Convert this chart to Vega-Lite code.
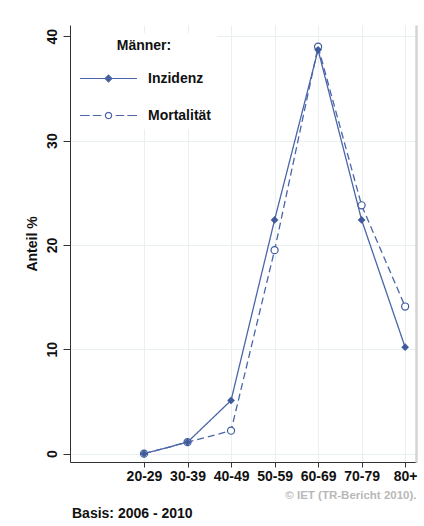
{
  "$schema": "https://vega.github.io/schema/vega-lite/v6.json",
  "width": 346,
  "height": 437,
  "autosize": "none",
  "padding": {"left": 70, "top": 25, "right": 8, "bottom": 64},
  "background": "white",
  "config": {"font": "Liberation Sans", "view": {"stroke": null}},
  "title": {"text": "Basis: 2006 - 2010", "orient": "bottom", "anchor": "start", "frame": "group", "fontSize": 14, "fontWeight": "bold", "color": "#111111", "offset": 6, "dx": 2},
  "data": {"values": [
    {"age": "20-29", "series": "Mortalität", "pct": 0},
    {"age": "30-39", "series": "Mortalität", "pct": 1.1},
    {"age": "40-49", "series": "Mortalität", "pct": 2.2},
    {"age": "50-59", "series": "Mortalität", "pct": 19.5},
    {"age": "60-69", "series": "Mortalität", "pct": 39.0},
    {"age": "70-79", "series": "Mortalität", "pct": 23.8},
    {"age": "80+", "series": "Mortalität", "pct": 14.1},
    {"age": "20-29", "series": "Inzidenz", "pct": 0},
    {"age": "30-39", "series": "Inzidenz", "pct": 1.1},
    {"age": "40-49", "series": "Inzidenz", "pct": 5.1},
    {"age": "50-59", "series": "Inzidenz", "pct": 22.4},
    {"age": "60-69", "series": "Inzidenz", "pct": 38.7},
    {"age": "70-79", "series": "Inzidenz", "pct": 22.4},
    {"age": "80+", "series": "Inzidenz", "pct": 10.2}
  ]},
  "encoding": {
    "x": {
      "field": "age", "type": "ordinal", "sort": ["20-29", "30-39", "40-49", "50-59", "60-69", "70-79", "80+"],
      "scale": {"type": "point", "padding": 0.975, "align": 0.872},
      "axis": {
        "title": "© IET (TR-Bericht 2010).", "titleColor": "#b8b8b8", "titleFontSize": 11.5, "titleFontWeight": "bold",
        "titleAnchor": "end", "titlePadding": 6,
        "labelAngle": 0, "labelFontSize": 14, "labelFontWeight": "bold", "labelColor": "#111111", "labelPadding": 2,
        "tickSize": 5, "tickColor": "#333333", "domainColor": "#333333",
        "grid": true, "gridColor": "#e8f0f1", "labelOverlap": false
      }
    },
    "y": {
      "field": "pct", "type": "quantitative",
      "scale": {"domain": [-0.8, 41.08], "nice": false, "zero": false},
      "axis": {
        "values": [0, 10, 20, 30, 40], "title": "Anteil %", "titleFontSize": 14, "titleFontWeight": "bold", "titleColor": "#111111",
        "titlePadding": 6, "labelAngle": 270, "labelAlign": "center", "labelBaseline": "bottom",
        "labelFontSize": 14, "labelFontWeight": "bold", "labelColor": "#111111", "labelPadding": 4,
        "tickSize": 7, "tickColor": "#333333", "domainColor": "#333333",
        "grid": true, "gridColor": "#e8f0f1", "labelOverlap": false, "labelBound": false
      }
    }
  },
  "layer": [
    {
      "mark": {"type": "line", "color": "#4a66a8", "strokeWidth": 1.3},
      "encoding": {
        "strokeDash": {"field": "series", "type": "nominal",
          "scale": {"range": [[1, 0], [7, 4]]}, "legend": null}
      }
    },
    {
      "mark": {"type": "point", "opacity": 1, "strokeWidth": 1.2, "stroke": "#4a66a8", "size": 0},
      "encoding": {
        "y": {"field": "pct", "type": "quantitative", "axis": null},
        "shape": {"field": "series", "type": "nominal",
          "scale": {"domain": ["Inzidenz", "Mortalität"], "range": [
            "M-1,0H1M0,-0.12L0.12,0L0,0.12L-0.12,0Z",
            "M-1,0H-0.66M-0.55,0H-0.25M0.25,0H0.55M0.66,0H1M0.11,0L0.095,0.055L0.055,0.095L0,0.11L-0.055,0.095L-0.095,0.055L-0.11,0L-0.095,-0.055L-0.055,-0.095L0,-0.11L0.055,-0.095L0.095,-0.055Z"
          ]},
          "legend": {
            "title": "Männer:", "orient": "none", "legendX": 1, "legendY": 8, "fillColor": "white", "padding": 6,
            "titleFontSize": 14, "titleFontWeight": "bold", "titleColor": "#111111", "titleAnchor": "middle", "titlePadding": -4,
            "labelFontSize": 14, "labelFontWeight": "bold", "labelColor": "#111111", "labelOffset": 10,
            "symbolSize": 3249, "symbolOffset": 2, "symbolStrokeWidth": 1.2, "rowPadding": -15
          }
        },
        "fill": {"field": "series", "type": "nominal",
          "scale": {"domain": ["Inzidenz", "Mortalität"], "range": ["#3f5b9c", "white"]},
          "legend": {
            "title": "Männer:", "orient": "none", "legendX": 1, "legendY": 8, "fillColor": "white", "padding": 6,
            "titleFontSize": 14, "titleFontWeight": "bold", "titleColor": "#111111", "titleAnchor": "middle", "titlePadding": -4,
            "labelFontSize": 14, "labelFontWeight": "bold", "labelColor": "#111111", "labelOffset": 10,
            "symbolSize": 3249, "symbolOffset": 2, "symbolStrokeWidth": 1.2, "rowPadding": -15
          }
        }
      }
    },
    {
      "transform": [{"filter": "datum.series === 'Mortalität'"}],
      "mark": {"type": "point", "shape": "circle", "opacity": 1, "strokeWidth": 1.2, "stroke": "#3f5b9c", "fill": "white", "size": 50},
      "encoding": {
        "y": {"field": "pct", "type": "quantitative", "axis": null}
      }
    },
    {
      "transform": [{"filter": "datum.series === 'Inzidenz'"}],
      "mark": {"type": "point", "shape": "diamond", "filled": true, "opacity": 1, "color": "#3f5b9c", "size": 60},
      "encoding": {
        "y": {
          "field": "pct", "type": "quantitative",
          "axis": {"orient": "right", "labels": false, "ticks": false, "grid": false, "title": null, "domainColor": "#d4d4d4", "domainWidth": 2.5}
        }
      }
    }
  ],
  "resolve": {"axis": {"y": "independent"}}
}
